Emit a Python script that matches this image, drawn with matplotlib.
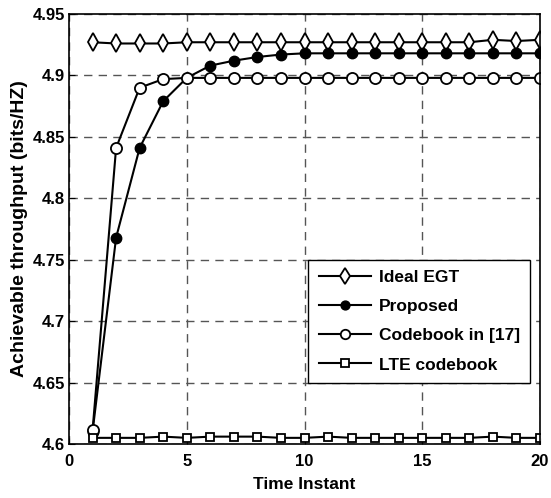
import matplotlib
matplotlib.use("Agg")
import matplotlib.pyplot as plt
import numpy as np

plt.rcParams['font.family'] = ['Liberation Sans', 'DejaVu Sans']
plt.rcParams['font.weight'] = 'bold'

# 时间点
t = np.arange(1, 21)

ideal_egt = [4.927, 4.926, 4.926, 4.926, 4.927, 4.927, 4.927, 4.927, 4.927, 4.927,
             4.927, 4.927, 4.927, 4.927, 4.927, 4.927, 4.927, 4.929, 4.928, 4.929]
proposed = [4.610, 4.768, 4.841, 4.879, 4.898, 4.908, 4.912, 4.915, 4.917, 4.918,
            4.918, 4.918, 4.918, 4.918, 4.918, 4.918, 4.918, 4.918, 4.918, 4.918]
codebook17 = [4.611, 4.841, 4.890, 4.897, 4.898, 4.898, 4.898, 4.898, 4.898, 4.898,
              4.898, 4.898, 4.898, 4.898, 4.898, 4.898, 4.898, 4.898, 4.898, 4.898]
lte = [4.605, 4.605, 4.605, 4.606, 4.605, 4.606, 4.606, 4.606, 4.605, 4.605,
       4.606, 4.605, 4.605, 4.605, 4.605, 4.605, 4.605, 4.606, 4.605, 4.605]

xticks = [0, 5, 10, 15, 20]
yticks = [4.6, 4.65, 4.7, 4.75, 4.8, 4.85, 4.9, 4.95]
ytick_labels = ['4.6', '4.65', '4.7', '4.75', '4.8', '4.85', '4.9', '4.95']

fig = plt.figure(figsize=(5.51, 4.98), dpi=100)
ax = fig.add_axes([69 / 551, 1 - 444 / 498, 471 / 551, 430 / 498])

lw = 1.5
ax.plot(t, ideal_egt, 'k-', marker='d', mfc='white', mec='k', ms=9, lw=lw, mew=1.3, label='Ideal EGT')
ax.plot(t, proposed, 'k-', marker='o', mfc='k', mec='k', ms=7.5, lw=lw, label='Proposed')
ax.plot(t, codebook17, 'k-', marker='o', mfc='white', mec='k', ms=8, lw=lw, mew=1.3, label='Codebook in [17]')
ax.plot(t, lte, 'k-', marker='s', mfc='white', mec='k', ms=6, lw=lw, mew=1.3, label='LTE codebook')

ax.set_xlim(0, 20)
ax.set_ylim(4.6, 4.95)
ax.set_xticks(xticks)
ax.set_yticks(yticks)
ax.set_yticklabels(ytick_labels)
ax.tick_params(direction='in', labelsize=12, length=4)
ax.tick_params(axis='x', pad=7)
ax.tick_params(axis='y', pad=3)
for lab in ax.get_xticklabels() + ax.get_yticklabels():
    lab.set_fontweight('bold')

ax.grid(True, ls=(0, (6, 4.5)), color='#555555', lw=1)
for s in ax.spines.values():
    s.set_linewidth(1.2)

ax.set_xlabel('Time Instant', fontsize=12.5, fontweight='bold', labelpad=6)
ax.set_ylabel('Achievable throughput (bits/HZ)', fontsize=14, fontweight='bold', labelpad=3)

leg = ax.legend(loc='lower right', bbox_to_anchor=(0.979, 0.142), fontsize=12.5,
                fancybox=False, edgecolor='k', framealpha=1, handlelength=3.0,
                borderpad=0.6, labelspacing=0.8, handletextpad=0.45, borderaxespad=0,
                markerscale=0.85)
leg.get_frame().set_linewidth(1)
for txt in leg.get_texts():
    txt.set_fontweight('bold')

fig.savefig('out.png', dpi=100)
